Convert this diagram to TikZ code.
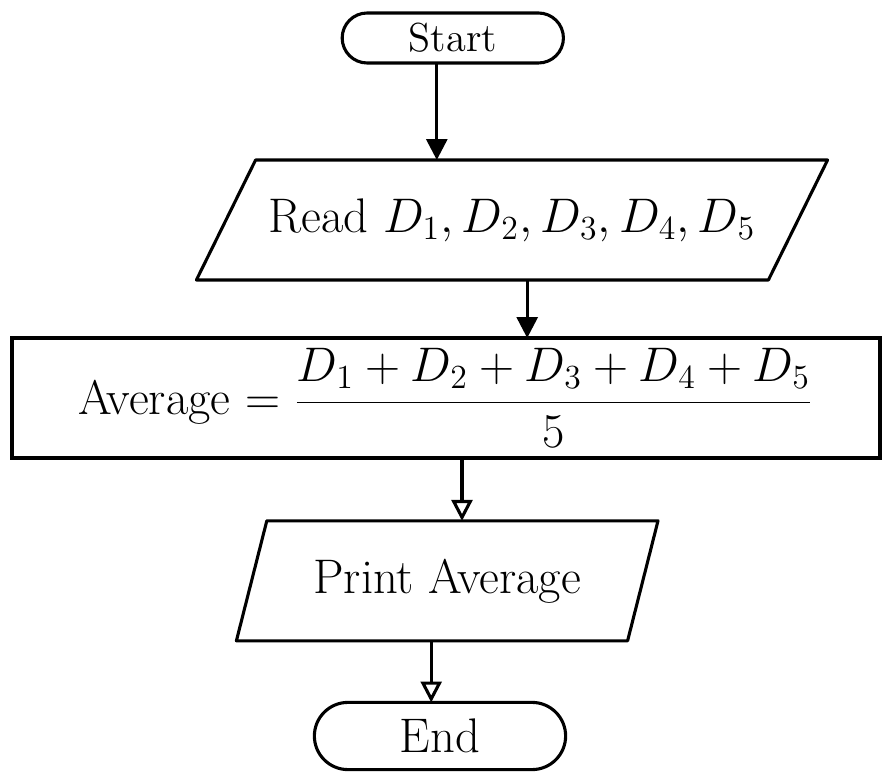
\documentclass[tikz,border=0pt]{standalone}
\usepackage{tikz}
\usetikzlibrary{
  arrows.meta,
  positioning,
  shapes.misc
}

\begin{document}
\begin{tikzpicture}[
  font=\LARGE,
  terminal/.style={
    rounded rectangle, draw=black, line width=1.1pt, outer sep=0pt
  },
  iotext/.style={
    rectangle, minimum height=1.5cm, outer sep=0pt
  },
  procbox/.style={
    rectangle, draw=black, line width=1.1pt,
    minimum width=10.85cm, minimum height=1.5cm, outer sep=0pt
  },
  boxline/.style={draw=black, line width=1.1pt, line join=round},
  flow/.style={-{Triangle[length=2.6mm,width=2.6mm]}, line width=1.1pt},
  flowopen/.style={-{Triangle[open,length=2.6mm,width=2.6mm]}, line width=1.1pt},
]
\useasboundingbox (0,0) rectangle (11.025,-9.675);

% Terminals and boxes (top to bottom)
\node[terminal, minimum width=3cm, minimum height=0.625cm, font=\Large] (start) at (5.66,-0.475) {Start};
\node[iotext, minimum width=7.15cm] (read) at (6.4,-2.75) {Read $D_1, D_2, D_3, D_4, D_5$};
\node[procbox] (avg) at (5.575,-4.975)
  {Average $= \displaystyle\frac{D_1+D_2+D_3+D_4+D_5}{5}$};
\node[iotext, minimum width=4.89cm] (print) at (5.59,-7.26) {Print Average};
\node[terminal, minimum width=3.375cm, minimum height=0.84cm] (end) at (5.5,-9.2) {End};

% Input/output parallelograms
\draw[boxline] ([xshift=0.37cm]read.north west) -- ([xshift=0.37cm]read.north east)
  -- ([xshift=-0.37cm]read.south east) -- ([xshift=-0.37cm]read.south west) -- cycle;
\draw[boxline] ([xshift=0.19cm]print.north west) -- ([xshift=0.19cm]print.north east)
  -- ([xshift=-0.19cm]print.south east) -- ([xshift=-0.19cm]print.south west) -- cycle;

% Flow lines
\draw[flow] ([xshift=-0.2cm]start.south) -- ([xshift=-0.2cm]start.south |- read.north);
\draw[flow] ([xshift=0.19cm]read.south) -- ([xshift=0.19cm]read.south |- avg.north);
\draw[flowopen] ([xshift=0.2cm]avg.south) -- ([xshift=0.2cm]avg.south |- print.north);
\draw[flowopen] ([xshift=-0.2cm]print.south) -- ([xshift=-0.2cm]print.south |- end.north);

\end{tikzpicture}
\end{document}
